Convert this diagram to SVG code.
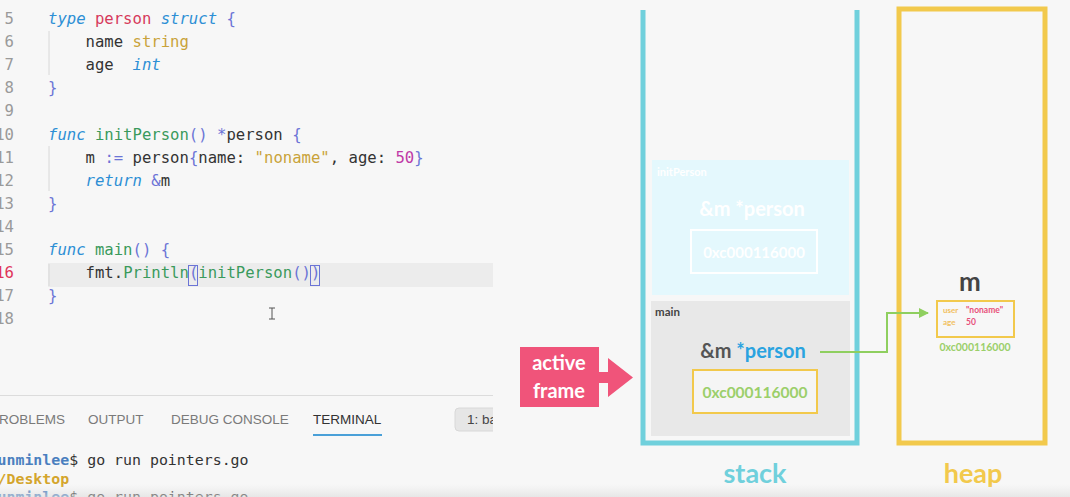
<svg xmlns="http://www.w3.org/2000/svg" width="1070" height="497" viewBox="0 0 1070 497">
<defs>
<style>
.code{font-family:"DejaVu Sans Mono","Liberation Mono",monospace;font-size:15.6px;fill:#333;white-space:pre}
.ln{font-family:"DejaVu Sans Mono","Liberation Mono",monospace;font-size:15.6px;fill:#9a9a9a;text-anchor:end}
.kw{fill:#2d8fd5;font-style:italic}
.ty{fill:#d63a5c}
.st{fill:#c9a33a}
.br{fill:#6b74d6}
.fn{fill:#3a9a5c}
.num{fill:#c03aa6}
.tab{font-family:"Liberation Sans",Arial,sans-serif;font-size:13.5px;fill:#7a7a7a}
.term{font-family:"DejaVu Sans Mono","Liberation Mono",monospace;font-size:14.9px;fill:#333;white-space:pre}
.ui{font-family:Lato,"Open Sans",sans-serif;font-weight:bold}
.guide{stroke:#d8d8d8;stroke-width:1}
</style>
<linearGradient id="fade" x1="0" y1="0" x2="0" y2="1">
<stop offset="0" stop-color="#e4e4e4" stop-opacity="0"/>
<stop offset="1" stop-color="#dcdcdc" stop-opacity="0.6"/>
</linearGradient>
<marker id="arr" markerWidth="10" markerHeight="10" refX="9" refY="5" orient="auto" markerUnits="userSpaceOnUse">
<path d="M0,0 L10,5 L0,10 Z" fill="#8fcf5f"/>
</marker>
</defs>
<rect x="0" y="0" width="1070" height="497" fill="#f7f7f7"/>

<g id="editor">
<rect x="48" y="263" width="445" height="24" fill="#ececec"/>
<line class="guide" x1="49" y1="31" x2="49" y2="75"/>
<line class="guide" x1="49" y1="146" x2="49" y2="191"/>
<line class="guide" x1="49" y1="264" x2="49" y2="286"/>
<g>
<text class="ln" x="14" y="24">5</text>
<text class="ln" x="14" y="47.1">6</text>
<text class="ln" x="14" y="70.2">7</text>
<text class="ln" x="14" y="93.3">8</text>
<text class="ln" x="14" y="116.4">9</text>
<text class="ln" x="14" y="139.5">10</text>
<text class="ln" x="14" y="162.6">11</text>
<text class="ln" x="14" y="185.7">12</text>
<text class="ln" x="14" y="208.8">13</text>
<text class="ln" x="14" y="231.9">14</text>
<text class="ln" x="14" y="255">15</text>
<text class="ln" x="14" y="278.1" style="fill:#e0345a">16</text>
<text class="ln" x="14" y="301.2">17</text>
<text class="ln" x="14" y="324.3">18</text>
</g>
<g>
<text class="code" x="48" y="24" xml:space="preserve"><tspan class="kw">type</tspan> <tspan class="ty">person</tspan> <tspan class="kw">struct</tspan> <tspan class="br">{</tspan></text>
<text class="code" x="85.6" y="47.1" xml:space="preserve">name <tspan class="st">string</tspan></text>
<text class="code" x="85.6" y="70.2" xml:space="preserve">age  <tspan class="kw">int</tspan></text>
<text class="code" x="48" y="93.3"><tspan class="br">}</tspan></text>
<text class="code" x="48" y="139.5" xml:space="preserve"><tspan class="kw">func</tspan> <tspan class="fn">initPerson</tspan><tspan class="br">()</tspan> <tspan class="br">*</tspan>person <tspan class="br">{</tspan></text>
<text class="code" x="85.6" y="162.6" xml:space="preserve">m <tspan class="br">:=</tspan> person<tspan class="br">{</tspan>name: <tspan class="st">"noname"</tspan>, age: <tspan class="num">50</tspan><tspan class="br">}</tspan></text>
<text class="code" x="85.6" y="185.7" xml:space="preserve"><tspan class="kw">return</tspan> <tspan class="br">&amp;</tspan>m</text>
<text class="code" x="48" y="208.8"><tspan class="br">}</tspan></text>
<text class="code" x="48" y="255" xml:space="preserve"><tspan class="kw">func</tspan> <tspan class="fn">main</tspan><tspan class="br">()</tspan> <tspan class="br">{</tspan></text>
<text class="code" x="85.6" y="278.1" xml:space="preserve">fmt.<tspan class="fn">Println</tspan><tspan class="br">(</tspan><tspan class="fn">initPerson</tspan><tspan class="br">()</tspan><tspan class="br">)</tspan></text>
<text class="code" x="48" y="301.2"><tspan class="br">}</tspan></text>
</g>
<rect x="188.5" y="265.5" width="9" height="20" fill="none" stroke="#6b74d6" stroke-width="1"/>
<rect x="310.5" y="265.5" width="9" height="20" fill="none" stroke="#6b74d6" stroke-width="1"/>
<path d="M269,308 h6 M272,308 v11 M269,319 h6" stroke="#555" stroke-width="1" fill="none"/>
</g>

<g id="terminal">
<line x1="0" y1="395.5" x2="493" y2="395.5" stroke="#dcdcdc" stroke-width="1"/>
<text class="tab" x="-1" y="424">ROBLEMS</text>
<text class="tab" x="88" y="424">OUTPUT</text>
<text class="tab" x="171" y="424">DEBUG CONSOLE</text>
<text class="tab" x="313" y="424" style="fill:#333">TERMINAL</text>
<rect x="313" y="434" width="69" height="2" fill="#4aa0d8"/>
<rect x="455" y="408" width="50" height="23" rx="4" fill="#e6e6e6" stroke="#d8d8d8"/>
<text class="tab" x="467" y="424" style="fill:#444">1: ba</text>
<rect x="493" y="400" width="14" height="40" fill="#f7f7f7"/>
<text class="term" x="-2.5" y="465" xml:space="preserve"><tspan style="fill:#4a7fbf;font-weight:bold">unminlee</tspan>$ go run pointers.go</text>
<text class="term" x="-2.5" y="484" style="fill:#d4a52c;font-weight:bold">/Desktop</text>
<text class="term" x="-2.5" y="502" xml:space="preserve"><tspan style="fill:#4a7fbf;font-weight:bold">unminlee</tspan>$ go run pointers.go</text>
</g>

<g id="stack">
<path d="M643,10 V443 H857 V10" fill="none" stroke="#70d0dc" stroke-width="5"/>
<text class="ui" x="755" y="483" font-size="27" fill="#70d0dc" text-anchor="middle">stack</text>
</g>

<g id="frame-initPerson">
<rect x="652" y="160" width="197" height="135" fill="#e4f8fd"/>
<text class="ui" x="657" y="176" font-size="11" fill="#ffffff">initPerson</text>
<text class="ui" x="752" y="216" font-size="20" fill="#ffffff" text-anchor="middle">&amp;m *person</text>
<rect x="691" y="230" width="126" height="43" fill="none" stroke="#ffffff" stroke-width="2"/>
<text class="ui" x="754" y="258" font-size="15" fill="#ffffff" text-anchor="middle">0xc000116000</text>
</g>

<g id="frame-main">
<rect x="651" y="301" width="199" height="135" fill="#e8e8e8"/>
<text class="ui" x="655" y="316" font-size="11.5" fill="#444">main</text>
<text class="ui" x="753" y="358" font-size="20" text-anchor="middle"><tspan fill="#555">&amp;m </tspan><tspan fill="#2aa3e0">*person</tspan></text>
<rect x="693" y="370" width="124" height="43" fill="#f5f5f5" stroke="#f2c94c" stroke-width="2"/>
<text class="ui" x="755" y="398" font-size="15.5" fill="#9bcf6a" text-anchor="middle">0xc000116000</text>
</g>

<g id="active-frame">
<rect x="520" y="347" width="79" height="60" fill="#f0547a"/>
<path d="M598,372 H608 V358 L633,377.5 L608,397 V383 H598 Z" fill="#f0547a"/>
<text class="ui" x="559" y="370" font-size="20" fill="#ffffff" text-anchor="middle">active</text>
<text class="ui" x="559" y="398" font-size="20" fill="#ffffff" text-anchor="middle">frame</text>
</g>

<g id="heap">
<rect x="899" y="9" width="146" height="434" fill="none" stroke="#f2c94c" stroke-width="5"/>
<text class="ui" x="973" y="483" font-size="27" fill="#f2c94c" text-anchor="middle">heap</text>
</g>

<g id="heap-m">
<text class="ui" x="970" y="291" font-size="26" fill="#444" text-anchor="middle">m</text>
<rect x="937" y="301" width="77" height="36" fill="#f7f7f7" stroke="#f2c94c" stroke-width="2"/>
<text class="ui" x="943" y="313" font-size="8" fill="#f2c060">user</text>
<text class="ui" x="966" y="313" font-size="8.5" fill="#e8507a">"noname"</text>
<text class="ui" x="943" y="325" font-size="8" fill="#f2c060">age</text>
<text class="ui" x="966" y="325" font-size="8.5" fill="#e8507a">50</text>
<text class="ui" x="975" y="351" font-size="10.5" fill="#9bcf6a" text-anchor="middle">0xc000116000</text>
</g>

<g id="connectors">
<path d="M820,352 H887 V313 H928" fill="none" stroke="#8fcf5f" stroke-width="2" marker-end="url(#arr)"/>
</g>

<rect x="0" y="484" width="1070" height="13" fill="url(#fade)"/>
</svg>
